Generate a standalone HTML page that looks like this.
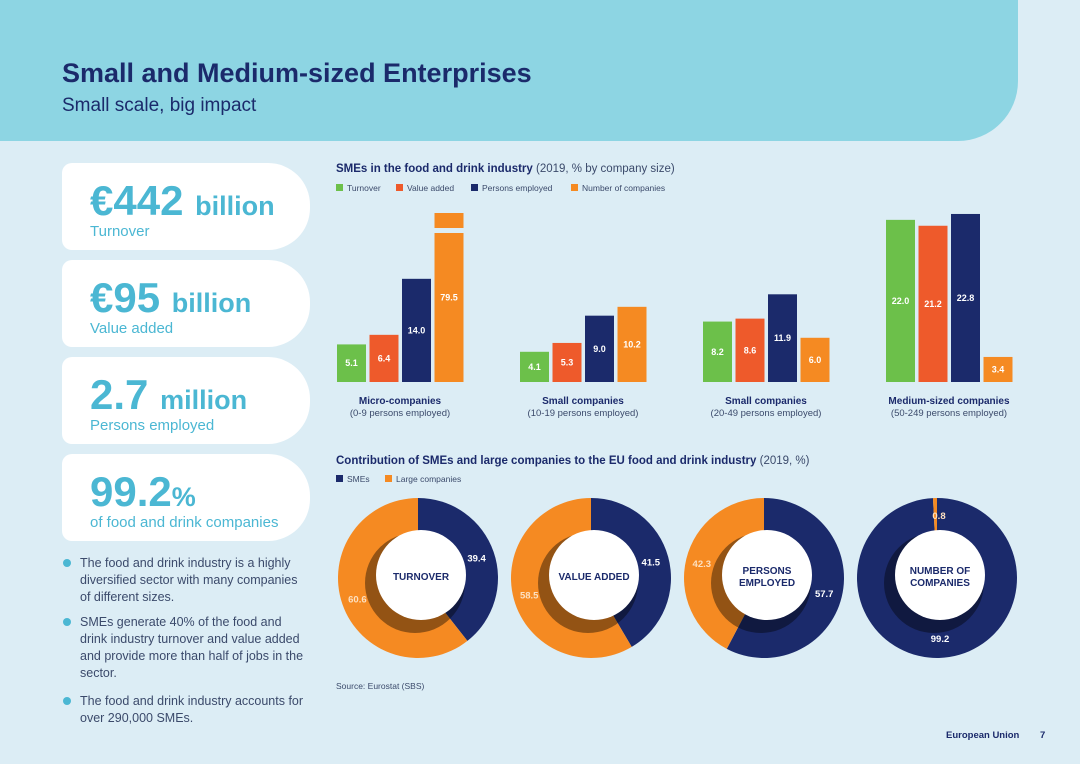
<!DOCTYPE html>
<html><head><meta charset="utf-8"><style>
body{margin:0;width:1080px;height:764px;overflow:hidden;background:#dcedf5;font-family:"Liberation Sans",sans-serif;position:relative}
.hdr{position:absolute;left:0;top:0;width:1018px;height:141px;background:#8dd5e3;border-bottom-right-radius:60px}
h1{position:absolute;left:62px;top:58px;margin:0;font-size:27px;color:#1b2a6b;font-weight:bold}
.sub{position:absolute;left:62px;top:95px;font-size:19px;color:#1b2a6b}
.card{position:absolute;left:62px;width:248px;height:87px;background:#fff;border-radius:10px 42px 42px 10px}
.big{position:absolute;left:28px;top:14px;font-size:42px;font-weight:bold;color:#4bb7d3;white-space:nowrap}
.big span{font-size:27px}
.lab{position:absolute;left:28px;top:60px;font-size:15px;color:#4bb7d3}
.bul{position:absolute;left:80px;font-size:12.5px;color:#3b4a6b;line-height:17px;width:228px}
.bul:before{content:"";position:absolute;left:-17px;top:4px;width:8px;height:8px;border-radius:50%;background:#4bb7d3}
svg{position:absolute;left:0;top:0}
</style></head><body>
<div class="hdr"></div>
<h1>Small and Medium-sized Enterprises</h1>
<div class="sub">Small scale, big impact</div>
<div class="card" style="top:163px"><div class="big">€442 <span>billion</span></div><div class="lab">Turnover</div></div>
<div class="card" style="top:260px"><div class="big">€95 <span>billion</span></div><div class="lab">Value added</div></div>
<div class="card" style="top:357px"><div class="big">2.7 <span>million</span></div><div class="lab">Persons employed</div></div>
<div class="card" style="top:454px"><div class="big">99.2<span>%</span></div><div class="lab">of food and drink companies</div></div>
<div class="bul" style="top:555px">The food and drink industry is a highly diversified sector with many companies of different sizes.</div>
<div class="bul" style="top:614px">SMEs generate 40% of the food and drink industry turnover and value added and provide more than half of jobs in the sector.</div>
<div class="bul" style="top:693px">The food and drink industry accounts for over 290,000 SMEs.</div>
<svg id="c" width="1080" height="764"></svg>
<script>
const groups=["Micro-companies","Small companies","Small companies","Medium-sized companies"];
const groupSubs=["(0-9 persons employed)","(10-19 persons employed)","(20-49 persons employed)","(50-249 persons employed)"];
const series=["Turnover","Value added","Persons employed","Number of companies"];
const turnover=[5.1,4.1,8.2,22.0];
const valueAdded=[6.4,5.3,8.6,21.2];
const personsEmployed=[14.0,9.0,11.9,22.8];
const numberCompanies=[79.5,10.2,6.0,3.4];
const donutLabels=[["TURNOVER"],["VALUE ADDED"],["PERSONS","EMPLOYED"],["NUMBER OF","COMPANIES"]];
const smeShare=[39.4,41.5,57.7,99.2];
const largeShare=[60.6,58.5,42.3,0.8];

const NS="http://www.w3.org/2000/svg",svg=document.getElementById('c');
const cols=["#6cc04a","#ee5a2b","#1b2a6b","#f58a22"];
function el(t,a,txt){const e=document.createElementNS(NS,t);for(const k in a)e.setAttribute(k,a[k]);if(txt!=null)e.textContent=txt;svg.appendChild(e);return e;}
function T(x,y,s,o){return el('text',Object.assign({x,y,'font-size':11,fill:'#1b2a6b'},o||{}),s);}
let t=T(336,172,"",{'font-size':11.5,'font-weight':'bold'});t.innerHTML='SMEs in the food and drink industry <tspan font-weight="normal" fill="#3b4a6b">(2019, % by company size)</tspan>';

const lx=[336,396,471,571];
series.forEach((s,i)=>{let r=el('rect',{x:lx[i],y:184,width:7,height:7,fill:cols[i]});

let tt=T(lx[i]+11,191,s,{'font-size':8.5,fill:'#3b4a6b'});});
const base=382,k=7.37,maxH=169;
const y=v=>Math.min(v*k,maxH);
const gx=i=>337+i*183;
const all=[turnover,valueAdded,personsEmployed,numberCompanies];
groups.forEach((g,gi)=>{
 all.forEach((arr,si)=>{const v=arr[gi],h=y(v),x=gx(gi)+si*32.5;
  let r=el('rect',{x,y:base-h,width:29,height:h,fill:cols[si]});
  
  if(v*k>maxH){el('rect',{x:x-2,y:base-h+15,width:33,height:5,fill:'#dcedf5'});}
  let tl=T(x+14.5,base-h/2+3,v.toFixed(1),{'font-size':9,'font-weight':'bold',fill:'#fff','text-anchor':'middle'});
  
 });
 const cx=gx(gi)+63;
 let a=T(cx,404,g,{'font-size':10,'font-weight':'bold','text-anchor':'middle'});
 let b=T(cx,416,groupSubs[gi],{'font-size':9.5,fill:'#3b4a6b','text-anchor':'middle'});
});
t=T(336,464,"",{'font-size':11.5,'font-weight':'bold'});t.innerHTML='Contribution of SMEs and large companies to the EU food and drink industry <tspan font-weight="normal" fill="#3b4a6b">(2019, %)</tspan>';

[["SMEs","#1b2a6b",336],["Large companies","#f58a22",385]].forEach(d=>{el('rect',{x:d[2],y:475,width:7,height:7,fill:d[1]});let q=T(d[2]+11,482,d[0],{'font-size':8.5,fill:'#3b4a6b'});});
function arc(cx,cy,r,a0,a1){const p=a=>[cx+r*Math.sin(a),cy-r*Math.cos(a)];const[x0,y0]=p(a0),[x1,y1]=p(a1);
 return `M${cx},${cy}L${x0},${y0}A${r},${r} 0 ${a1-a0>Math.PI?1:0} 1 ${x1},${y1}Z`;}
smeShare.forEach((v,i)=>{
 const cx=418+i*173,cy=578,R=80,tot=v+largeShare[i];const a=v/tot*2*Math.PI;
 let s=el('path',{d:arc(cx,cy,R,0,a),fill:'#1b2a6b'});
 let l=el('path',{d:arc(cx,cy,R,a,2*Math.PI-0.0001),fill:'#f58a22'});
 el('circle',{cx:cx-3,cy:cy+5,r:50,fill:'#000',opacity:0.4});
 el('circle',{cx:cx+3,cy:cy-3,r:45,fill:'#fff'});
 const L=donutLabels[i];L.forEach((w,j)=>{T(cx+3,cy+2+(j-(L.length-1)/2)*12,w,{'font-size':10,'font-weight':'bold','text-anchor':'middle'});});
 const mid=a/2,mid2=a+(2*Math.PI-a)/2;
 const pos=i==3?[[cx+3,cy+64],[cx+2,cy-59]]:[[cx+62*Math.sin(mid),cy-62*Math.cos(mid)+4],[cx+62*Math.sin(mid2)-2,cy-62*Math.cos(mid2)+4]];
 T(pos[0][0],pos[0][1],v.toFixed(1),{'font-size':9.5,'font-weight':'bold',fill:'#fff','text-anchor':'middle'});
 T(pos[1][0],pos[1][1],largeShare[i].toFixed(1),{'font-size':9.5,'font-weight':'bold',fill:'#fde0c0','text-anchor':'middle'});
});
T(336,689,"Source: Eurostat (SBS)",{'font-size':8.5,fill:'#3b4a6b'});
T(946,738,"European Union",{'font-size':9.5,'font-weight':'bold'});
T(1040,738,"7",{'font-size':9.5,'font-weight':'bold'});
</script>
</body></html>
